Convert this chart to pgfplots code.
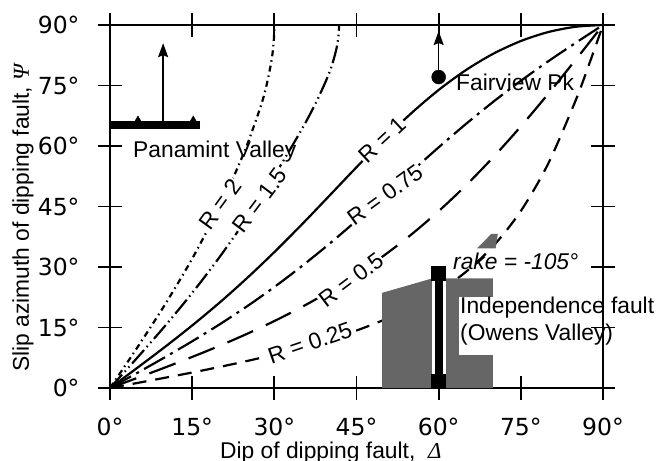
\documentclass[border=0pt]{standalone}
\usepackage{pgfplots}
\pgfplotsset{compat=1.18}
\usetikzlibrary{arrows.meta}
\usepackage{fontspec}
\setmainfont{Liberation Sans}
\newfontfamily\tickfont{DejaVu Sans}
\newfontfamily\grfont{Liberation Serif}
\newcommand\lbl{\fontsize{22.8}{27}\selectfont}
\begin{document}
\begin{tikzpicture}[x=1pt,y=1pt]
\useasboundingbox (-110,-72) rectangle (553,388);
% minor ticks (inside only)
\begin{axis}[at={(0,0)}, anchor=south west, scale only axis, width=493pt, height=363pt,
  xmin=0,xmax=90,ymin=0,ymax=90, xtick=\empty, ytick=\empty,
  minor xtick={5,10,20,25,35,40,50,55,65,70,80,85},
  minor ytick={5,10,20,25,35,40,50,55,65,70,80,85},
  tick align=inside, minor tick length=8pt, minor tick style={line width=1.8pt, black},
  axis line style={line width=2.2pt}]
\end{axis}
\begin{axis}[at={(0,0)}, anchor=south west, scale only axis, width=493pt, height=363pt,
  xmin=0,xmax=90,ymin=0,ymax=90, clip=false,
  xtick={0,15,30,45,60,75,90}, ytick={0,15,30,45,60,75,90},
  xticklabels={0°,15°,30°,45°,60°,75°,90°},
  yticklabels={0°,15°,30°,45°,60°,75°,90°},
  tick align=center, major tick length=24pt, major tick style={line width=1.8pt, black},
  axis line style={line width=2.2pt},
  ticklabel style={font=\tickfont\fontsize{23.5}{28}\selectfont},
  xticklabel style={yshift=-15pt},
  yticklabel style={xshift=-15pt}]
% R = 2
\addplot[line width=2.2pt, smooth, dash pattern=on 6pt off 4pt on 1.5pt off 4pt] coordinates {(0,0)(5,10.08)(10,20.61)(15,32.06)(20,44.94)(22.5,52.16)(25,60.19)(27.5,69.78)(28.5,74.62)(29.5,81.28)(29.9,86.14)(30,90)};
% R = 1.5
\addplot[line width=2.2pt, smooth, dash pattern=on 18pt off 4pt on 1.5pt off 4pt on 1.5pt off 4pt] coordinates {(0,0)(5,7.54)(10,15.32)(15,23.56)(20,32.46)(25,42.13)(30,52.63)(35,64.11)(37.5,70.50)(39.5,76.39)(40.5,80.00)(41.3,83.89)(41.7,87.19)(41.81,90)};
% R = 1
\addplot[line width=2.2pt, smooth] coordinates {(0,0)(5,5.02)(10,10.15)(15,15.50)(20,21.17)(25,27.23)(30,33.69)(35,40.52)(40,47.60)(45,54.74)(50,61.66)(55,68.12)(60,73.90)(65,78.85)(70,82.90)(75,86.03)(80,88.25)(85,89.56)(90,90)};
% R = 0.75
\addplot[line width=2.2pt, smooth, dash pattern=on 24pt off 6pt on 3pt off 6pt] coordinates {(0,0)(5,3.76)(10,7.60)(15,11.58)(20,15.77)(25,20.24)(30,25.04)(35,30.19)(40,35.69)(45,41.50)(50,47.52)(55,53.63)(60,59.67)(65,65.49)(70,71.00)(75,76.16)(80,81.00)(85,85.57)(90,90)};
% R = 0.5
\addplot[line width=2.2pt, smooth, dash pattern=on 28pt off 14pt] coordinates {(0,0)(5,2.51)(10,5.06)(15,7.70)(20,10.47)(25,13.42)(30,16.60)(35,20.07)(40,23.89)(45,28.13)(50,32.83)(55,38.05)(60,43.85)(65,50.26)(70,57.28)(75,64.86)(80,72.94)(85,81.37)(87.5,85.67)(88.75,87.84)(90,90)};
% R = 0.25
\addplot[line width=2.2pt, smooth, dash pattern=on 14pt off 9pt] coordinates {(0,0)(5,1.25)(10,2.53)(15,3.84)(20,5.22)(25,6.69)(30,8.28)(35,10.03)(40,12.00)(45,14.25)(50,16.89)(55,20.04)(60,23.92)(65,28.83)(70,35.25)(75,43.88)(80,55.64)(85,71.28)(87.5,80.40)(88.75,85.17)(90,90)};
% curve labels
\node[fill=white, inner sep=1pt, rotate=54, font=\lbl] at (axis cs:20.1,45.6) {R = 2};
\node[fill=white, inner sep=1pt, rotate=53, font=\lbl] at (axis cs:27.4,46.6) {R = 1.5};
\node[fill=white, inner sep=1pt, rotate=43, font=\lbl] at (axis cs:49.7,61.5) {R = 1};
\node[fill=white, inner sep=1pt, rotate=36, font=\lbl] at (axis cs:50.2,47.9) {R = 0.75};
\node[fill=white, inner sep=1pt, rotate=37, font=\lbl] at (axis cs:44.0,26.8) {R = 0.5};
\node[fill=white, inner sep=1pt, rotate=19, font=\lbl] at (axis cs:36.5,11.2) {R = 0.25};
% Independence fault range
\addplot[fill=black!60, draw=none] coordinates {(49.7,0)(49.7,23.6)(58.9,27.2)(69.9,27.2)(69.9,0)} -- cycle;
\addplot[fill=black!60, draw=none] coordinates {(67,34.6)(70.4,34.6)(70.8,38.2)(69.6,38.2)} -- cycle;
\addplot[fill=white, draw=none] coordinates {(63.7,8.1)(63.7,22.6)(71,22.6)(71,8.1)} -- cycle;
\addplot[white, line width=14pt] coordinates {(60,0.6)(60,28.5)};
\addplot[black, line width=8pt] coordinates {(60,1)(60,28.5)};
\addplot[only marks, mark=square*, mark size=7pt, black] coordinates {(60,28.5)(60,1.7)};
% Panamint Valley
\addplot[black, line width=8pt] coordinates {(0,65.2)(16.4,65.2)};
\addplot[only marks, mark=triangle*, mark size=7.5pt, black] coordinates {(5.1,65.6)(15.2,65.6)};
\addplot[black, line width=1.5pt, -{Stealth[length=14pt, width=10pt, inset=2pt]}] coordinates {(9.7,65.2)(9.7,85.5)};
% Fairview Pk
\addplot[black, line width=1.5pt, -{Stealth[length=14pt, width=10pt, inset=2pt]}] coordinates {(60,77)(60,88.5)};
\addplot[only marks, mark=*, mark size=7pt, black] coordinates {(60,77.1)};
\end{axis}
\node[anchor=base west, inner sep=0pt, font=\lbl] at (23,230) {Panamint Valley};
\node[anchor=base west, inner sep=0pt, font=\lbl] at (346,297) {Fairview Pk};
\node[anchor=base west, inner sep=0pt, font=\lbl] at (343,118) {\itshape rake = -105°};
\node[anchor=base west, inner sep=0pt, font=\lbl] at (350,74) {Independence fault};
\node[anchor=base west, inner sep=0pt, font=\lbl] at (350,47) {(Owens Valley)};
\node[anchor=base west, inner sep=0pt, font=\lbl] at (110,-70.5) {Dip of dipping fault,\ \ {\grfont\itshape Δ}};
\node[anchor=base west, inner sep=0pt, rotate=90, font=\lbl] at (-81,16) {Slip azimuth of dipping fault, {\grfont\itshape Ψ}};
\end{tikzpicture}
\end{document}
